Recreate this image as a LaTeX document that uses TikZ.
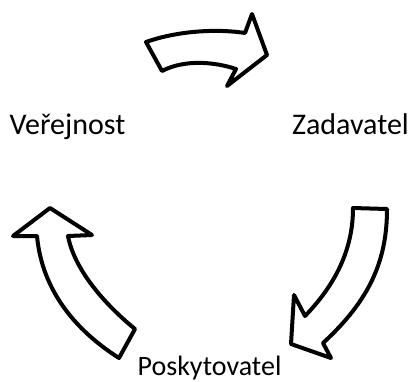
\documentclass[tikz,border=0pt]{standalone}
\usepackage{fontspec}
\setmainfont{Carlito}
\begin{document}
\begin{tikzpicture}[x=1pt,y=-1pt,
  blockarrow/.style={draw=black, line width=4pt, line join=round, fill=white},
  lbl/.style={font=\fontsize{30}{34}\selectfont, inner sep=0pt, anchor=base},
  lblsmall/.style={font=\fontsize{28}{32}\selectfont, inner sep=0pt, anchor=base}]
\useasboundingbox (0,0) rectangle (411,381);
% top arrow (Verejnost -> Zadavatel)
\draw[blockarrow] (146,42) .. controls (180,30) and (220,29) .. (245,33)
  -- (252,14) -- (267,55) -- (227,86) -- (236,69)
  .. controls (215,62) and (185,59) .. (162,71) -- cycle;
% right arrow (Zadavatel -> Poskytovatel)
\draw[blockarrow] (353,208) -- (387,209)
  .. controls (387,260) and (370,300) .. (323,343)
  -- (331,358) -- (291,344) -- (294,295) -- (305,316)
  .. controls (335,285) and (353,250) .. (353,208) -- cycle;
% left arrow (Poskytovatel -> Verejnost)
\draw[blockarrow] (50,208) -- (92,235) -- (68,236)
  .. controls (74,268) and (102,302) .. (135,329)
  -- (119,358)
  .. controls (75,330) and (42,290) .. (37,236)
  -- (13,236) -- cycle;
% labels
\node[lbl] (verejnost) at (67.5,134) {Veřejnost};
\node[lbl] (zadavatel) at (350.5,134) {Zadavatel};
\node[lblsmall] (poskytovatel) at (209.5,375) {Poskytovatel};
\end{tikzpicture}
\end{document}
